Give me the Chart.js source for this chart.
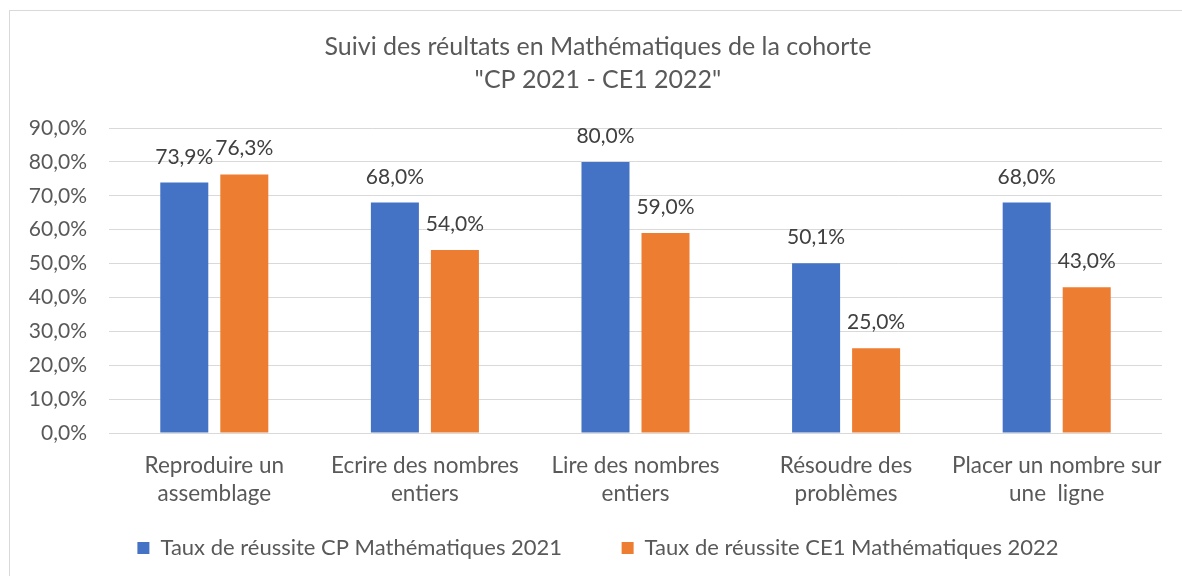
<!DOCTYPE html>
<html><head><meta charset="utf-8">
<script src="https://cdn.jsdelivr.net/npm/chart.js@4.4.1/dist/chart.umd.min.js"></script>
<style>
html,body{margin:0;padding:0;background:#fff;overflow:hidden;width:1182px;height:576px}
#wrap{position:absolute;left:0;top:0;width:1196px;height:576px}
canvas{display:block}
</style></head>
<body><div id="wrap"><canvas id="c" width="1196" height="576"></canvas></div>
<script>
const categories = [["Reproduire un","assemblage"],["Ecrire des nombres","entiers"],["Lire des nombres","entiers"],["Résoudre des","problèmes"],["Placer un nombre sur","une  ligne"]];
const seriesNames = ["Taux de réussite CP Mathématiques 2021","Taux de réussite CE1 Mathématiques 2022"];
const cp2021 = [73.9, 68.0, 80.0, 50.1, 68.0];
const ce12022 = [76.3, 54.0, 59.0, 25.0, 43.0];
const yTickValues = [0, 10, 20, 30, 40, 50, 60, 70, 80, 90];
const titleLines = ["Suivi des réultats en Mathématiques de la cohorte", "\"CP 2021 - CE1 2022\""];

const FONT = "Lato";
const fmt = v => v.toFixed(1).replace('.', ',') + '%';

const frame = {
  id: 'frame',
  beforeDraw(chart) {
    const ctx = chart.ctx;
    ctx.save();
    ctx.fillStyle = '#ffffff';
    ctx.fillRect(0, 0, chart.width, chart.height);
    ctx.strokeStyle = '#d9d9d9';
    ctx.lineWidth = 1;
    ctx.strokeRect(9.5, 10.5, 1400, 800);
    ctx.restore();
  }
};

const valueLabels = {
  id: 'valueLabels',
  afterDatasetsDraw(chart) {
    const ctx = chart.ctx;
    ctx.save();
    ctx.font = "21px " + FONT;
    ctx.fillStyle = '#404040';
    ctx.textAlign = 'center';
    ctx.textBaseline = 'alphabetic';
    chart.data.datasets.forEach((ds, i) => {
      chart.getDatasetMeta(i).data.forEach((bar, j) => {
        ctx.fillText(fmt(ds.data[j]), bar.x, bar.y - 19);
      });
    });
    ctx.restore();
  }
};

new Chart(document.getElementById('c'), {
  type: 'bar',
  data: {
    labels: categories,
    datasets: [
      { label: seriesNames[0], data: cp2021, backgroundColor: '#4472C4', barPercentage: 0.8, categoryPercentage: 0.57 },
      { label: seriesNames[1], data: ce12022, backgroundColor: '#ED7D31', barPercentage: 0.8, categoryPercentage: 0.57 }
    ]
  },
  options: {
    responsive: false,
    animation: false,
    devicePixelRatio: 1,
    layout: { padding: { left: 9, right: 9, top: 0, bottom: 7 } },
    plugins: {
      tooltip: { enabled: false },
      title: {
        display: true,
        text: titleLines,
        color: '#595959',
        font: { family: FONT, size: 25, weight: 'normal', lineHeight: '33px' },
        padding: { top: 30, bottom: 32 }
      },
      legend: {
        position: 'bottom',
        labels: {
          color: '#595959',
          font: { family: FONT, size: 22 },
          boxWidth: 12, boxHeight: 12,
          padding: 10,
          generateLabels(chart) {
            const items = Chart.defaults.plugins.legend.labels.generateLabels(chart);
            items[0].text = items[0].text + '\u2003\u2003\u2003';
            return items;
          }
        }
      }
    },
    scales: {
      x: {
        grid: { display: false },
        border: { display: false },
        ticks: { color: '#595959', font: { family: FONT, size: 22.5, lineHeight: '28px' }, padding: 11, maxRotation: 0, autoSkip: false },
        afterFit(s) { s.height = 94; }
      },
      y: {
        min: 0, max: 90,
        afterBuildTicks(s) { s.ticks = yTickValues.map(v => ({ value: v })); },
        grid: { color: '#d9d9d9', lineWidth: 1, drawTicks: false },
        border: { display: false },
        ticks: { color: '#595959', font: { family: FONT, size: 21 }, padding: 22, callback: v => fmt(v) },
        afterFit(s) { s.width = 100; }
      },
      yR: {
        position: 'right',
        display: true,
        grid: { display: false, drawTicks: false },
        border: { display: false },
        ticks: { display: false },
        afterFit(s) { s.width = 25; }
      }
    }
  },
  plugins: [frame, valueLabels]
});
</script>
</body></html>
